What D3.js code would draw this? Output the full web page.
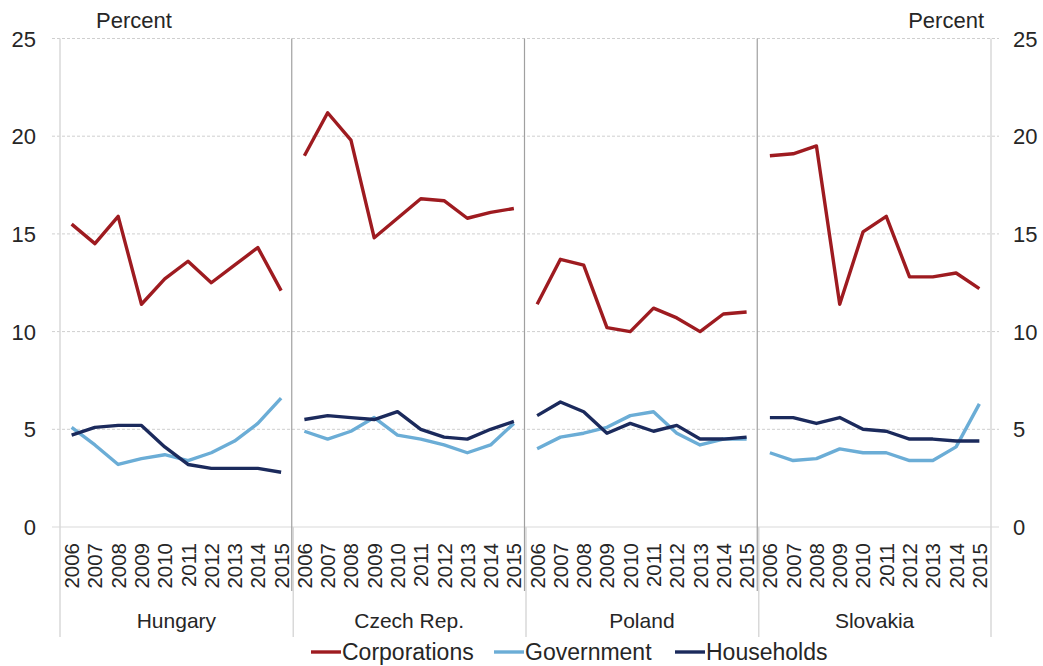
<!DOCTYPE html>
<html><head><meta charset="utf-8">
<script src="https://cdn.jsdelivr.net/npm/d3@7"></script>
<style>body{margin:0;background:#fff}svg{display:block;font-family:"Liberation Sans",Arial,sans-serif}</style>
</head><body><svg id="c" width="1043" height="666"></svg>
<script>
const countries = ["Hungary", "Czech Rep.", "Poland", "Slovakia"];
const years = ["2006","2007","2008","2009","2010","2011","2012","2013","2014","2015"];
const yTicks = [0, 5, 10, 15, 20, 25];
const seriesNames = ["Corporations", "Government", "Households"];
// values per country, 2006-2015
const corporations = [
  [15.5, 14.5, 15.9, 11.4, 12.7, 13.6, 12.5, 13.4, 14.3, 12.1],
  [19.0, 21.2, 19.8, 14.8, 15.8, 16.8, 16.7, 15.8, 16.1, 16.3],
  [11.4, 13.7, 13.4, 10.2, 10.0, 11.2, 10.7, 10.0, 10.9, 11.0],
  [19.0, 19.1, 19.5, 11.4, 15.1, 15.9, 12.8, 12.8, 13.0, 12.2]
];
const government = [
  [5.1, 4.2, 3.2, 3.5, 3.7, 3.4, 3.8, 4.4, 5.3, 6.6],
  [4.9, 4.5, 4.9, 5.6, 4.7, 4.5, 4.2, 3.8, 4.2, 5.3],
  [4.0, 4.6, 4.8, 5.1, 5.7, 5.9, 4.8, 4.2, 4.5, 4.5],
  [3.8, 3.4, 3.5, 4.0, 3.8, 3.8, 3.4, 3.4, 4.1, 6.3]
];
const households = [
  [4.7, 5.1, 5.2, 5.2, 4.1, 3.2, 3.0, 3.0, 3.0, 2.8],
  [5.5, 5.7, 5.6, 5.5, 5.9, 5.0, 4.6, 4.5, 5.0, 5.4],
  [5.7, 6.4, 5.9, 4.8, 5.3, 4.9, 5.2, 4.5, 4.5, 4.6],
  [5.6, 5.6, 5.3, 5.6, 5.0, 4.9, 4.5, 4.5, 4.4, 4.4]
];
const colors = ["#9e1b20", "#6badd6", "#1b2a5c"];
const seriesData = [corporations, government, households];

const svg = d3.select("#c");
const L = 60, R = 991, T = 38.5, B = 527;
const cats = [];
countries.forEach(c => years.forEach(y => cats.push(c + "|" + y)));
const x = d3.scaleBand().domain(cats).range([L, R]);
const y = d3.scaleLinear().domain([0, 25]).range([B, T]);
const txt = "#262626";

// gridlines
svg.append("g").selectAll("line").data(yTicks).join("line")
  .attr("x1", 52).attr("x2", 999)
  .attr("y1", d => y(d)).attr("y2", d => y(d))
  .attr("stroke", d => d === 0 ? "#d9d9d9" : "#cfcfcf")
  .attr("stroke-width", 1)
  .attr("stroke-dasharray", d => d === 0 ? null : "3,2");

// outer axis vertical lines
[L, R].forEach(px => svg.append("line").attr("x1", px).attr("x2", px).attr("y1", T).attr("y2", 637)
  .attr("stroke", "#d9d9d9").attr("stroke-width", 1.5));

// category boundaries
const bounds = countries.slice(1).map(c => x(c + "|" + years[0]));
bounds.forEach(px => {
  svg.append("line").attr("x1", px + 0.5).attr("x2", px + 0.5).attr("y1", B).attr("y2", 637)
    .attr("stroke", "#d9d9d9").attr("stroke-width", 1.5);
  svg.append("line").attr("x1", px - 1).attr("x2", px - 1).attr("y1", T).attr("y2", 591)
    .attr("stroke", "#a0a0a0").attr("stroke-width", 1.2);
});

// y tick labels
const yl = svg.append("g").attr("font-size", 22).attr("fill", txt);
yl.selectAll("text.l").data(yTicks).join("text").attr("class", "l")
  .attr("x", 36).attr("y", d => y(d) + 8).attr("text-anchor", "end").text(d => d);
yl.selectAll("text.r").data(yTicks).join("text").attr("class", "r")
  .attr("x", 1013).attr("y", d => y(d) + 8).attr("text-anchor", "start").text(d => d);

svg.append("text").attr("x", 96).attr("y", 28).attr("font-size", 22).attr("fill", txt).text("Percent");
svg.append("text").attr("x", 984).attr("y", 28).attr("font-size", 22).attr("fill", txt)
  .attr("text-anchor", "end").text("Percent");

// year labels
svg.append("g").selectAll("text").data(cats).join("text")
  .attr("transform", d => `translate(${x(d) + x.bandwidth() / 2 + 7.5},543) rotate(-90)`)
  .attr("text-anchor", "end").attr("font-size", 20.5).attr("fill", txt)
  .text(d => d.split("|")[1]);

// country labels
svg.append("g").selectAll("text").data(countries).join("text")
  .attr("x", c => (x(c + "|" + years[0]) + x(c + "|" + years[9]) + x.bandwidth()) / 2)
  .attr("y", 628).attr("text-anchor", "middle").attr("font-size", 21).attr("fill", txt)
  .text(c => c);

// lines
const line = d3.line().x(d => x(d.k) + x.bandwidth() / 2).y(d => y(d.v));
seriesData.forEach((s, si) => {
  s.forEach((vals, ci) => {
    const pts = vals.map((v, i) => ({ k: countries[ci] + "|" + years[i], v }));
    svg.append("path").datum(pts).attr("d", line).attr("fill", "none")
      .attr("stroke", colors[si]).attr("stroke-width", 3.4).attr("stroke-linejoin", "round");
  });
});

// legend
const legX = [311, 494, 675];
const lg = svg.append("g");
seriesNames.forEach((n, i) => {
  lg.append("line").attr("x1", legX[i]).attr("x2", legX[i] + 30).attr("y1", 652).attr("y2", 652)
    .attr("stroke", colors[i]).attr("stroke-width", 3.4);
  lg.append("text").attr("x", legX[i] + 31).attr("y", 660).attr("font-size", 23).attr("fill", txt).text(n);
});
</script></body></html>
